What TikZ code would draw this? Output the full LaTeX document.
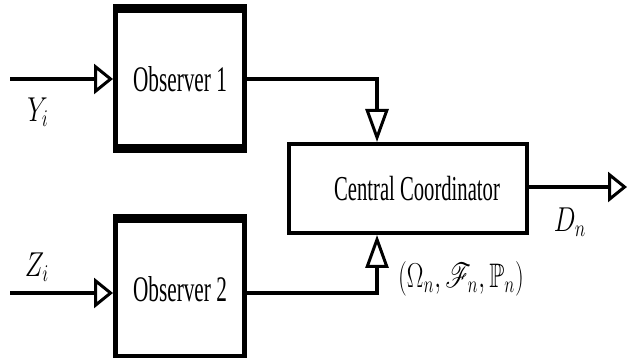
\documentclass[tikz,border=0pt]{standalone}
\usepackage{amsmath}
\usepackage{amssymb}
\usepackage{mathrsfs}
\usepackage{graphicx}
\usepackage{fontspec}
\setmainfont{Liberation Serif}
\usepackage{tikz}
\usetikzlibrary{calc}
\usetikzlibrary{arrows.meta}
\newcommand{\narrow}[2][0.59]{\scalebox{#1}[1]{#2}}
\tikzset{
  obsbox/.style={draw,line width=2.5pt,minimum width=64.5pt,minimum height=69.5pt,inner sep=0pt,font=\fontsize{18}{21}\selectfont},
  ccbox/.style={draw,line width=2pt,minimum width=119pt,minimum height=44.5pt,inner sep=0pt,font=\fontsize{17.5}{21}\selectfont},
  wire/.style={line width=2pt},
  harrow/.style={wire,-{Triangle[open,length=9.5pt,width=15pt,line width=1.5pt]}},
  varrow/.style={wire,-{Triangle[open,length=16.5pt,width=11.5pt,line width=1.5pt]}},
  lbl/.style={inner sep=0pt,font=\fontsize{17}{20}\selectfont}
}

\begin{document}
\begin{tikzpicture}[x=0.5pt,y=0.5pt]
            % 図の範囲
            \useasboundingbox (0,0) rectangle (628,358);

            % ブロックを置く
            \node[obsbox] (obs1) at (180,279) {\narrow{Observer 1}};
            \node[obsbox] (obs2) at (180,69) {\narrow{Observer 2}};
            \node[ccbox] (cc) at (408,169.5) {\hspace*{9pt}\narrow{Central Coordinator}};

            % 観測器の上下の太い辺
            \draw[line width=4.5pt] ($(obs1.north west)+(0,-2)$)--($(obs1.north east)+(0,-2)$);
            \draw[line width=4.5pt] ($(obs1.south west)+(0,2)$)--($(obs1.south east)+(0,2)$);
            \draw[line width=4.5pt] ($(obs2.north west)+(0,-2)$)--($(obs2.north east)+(0,-2)$);
            \draw[line width=4.5pt] ($(obs2.south west)+(0,2)$)--($(obs2.south east)+(0,2)$);

            \coordinate (in1) at (10,279);
            \coordinate (in2) at (10,65);
            \coordinate (cctop) at ($(cc.north west)!0.372!(cc.north east)$);
            \coordinate (ccbot) at ($(cc.south west)!0.372!(cc.south east)$);
            \coordinate (out) at (627,171);

            % 矢印を描く
            \draw[harrow] (in1)--(obs1.west |- in1);
            \draw[harrow] (in2)--(obs2.west |- in2);
            \draw[varrow] (obs1.east)-|(cctop);
            \draw[varrow] (obs2.east |- in2)-|(ccbot);
            \draw[harrow] (cc.east |- out)--(out);

            % ラベル
            \node[lbl] (yi) at (38,246) {\narrow[0.75]{$Y_i$}};
            \node[lbl] (zi) at (37,91) {\narrow[0.75]{$Z_i$}};
            \node[lbl] (dn) at (570,136) {\narrow[0.75]{$D_n$}};
            \node[lbl] (prob) at (461,79) {\narrow[0.72]{$\left(\Omega_n,\mathscr{F}_n,\mathbb{P}_n\right)$}};

        \end{tikzpicture}
\end{document}
